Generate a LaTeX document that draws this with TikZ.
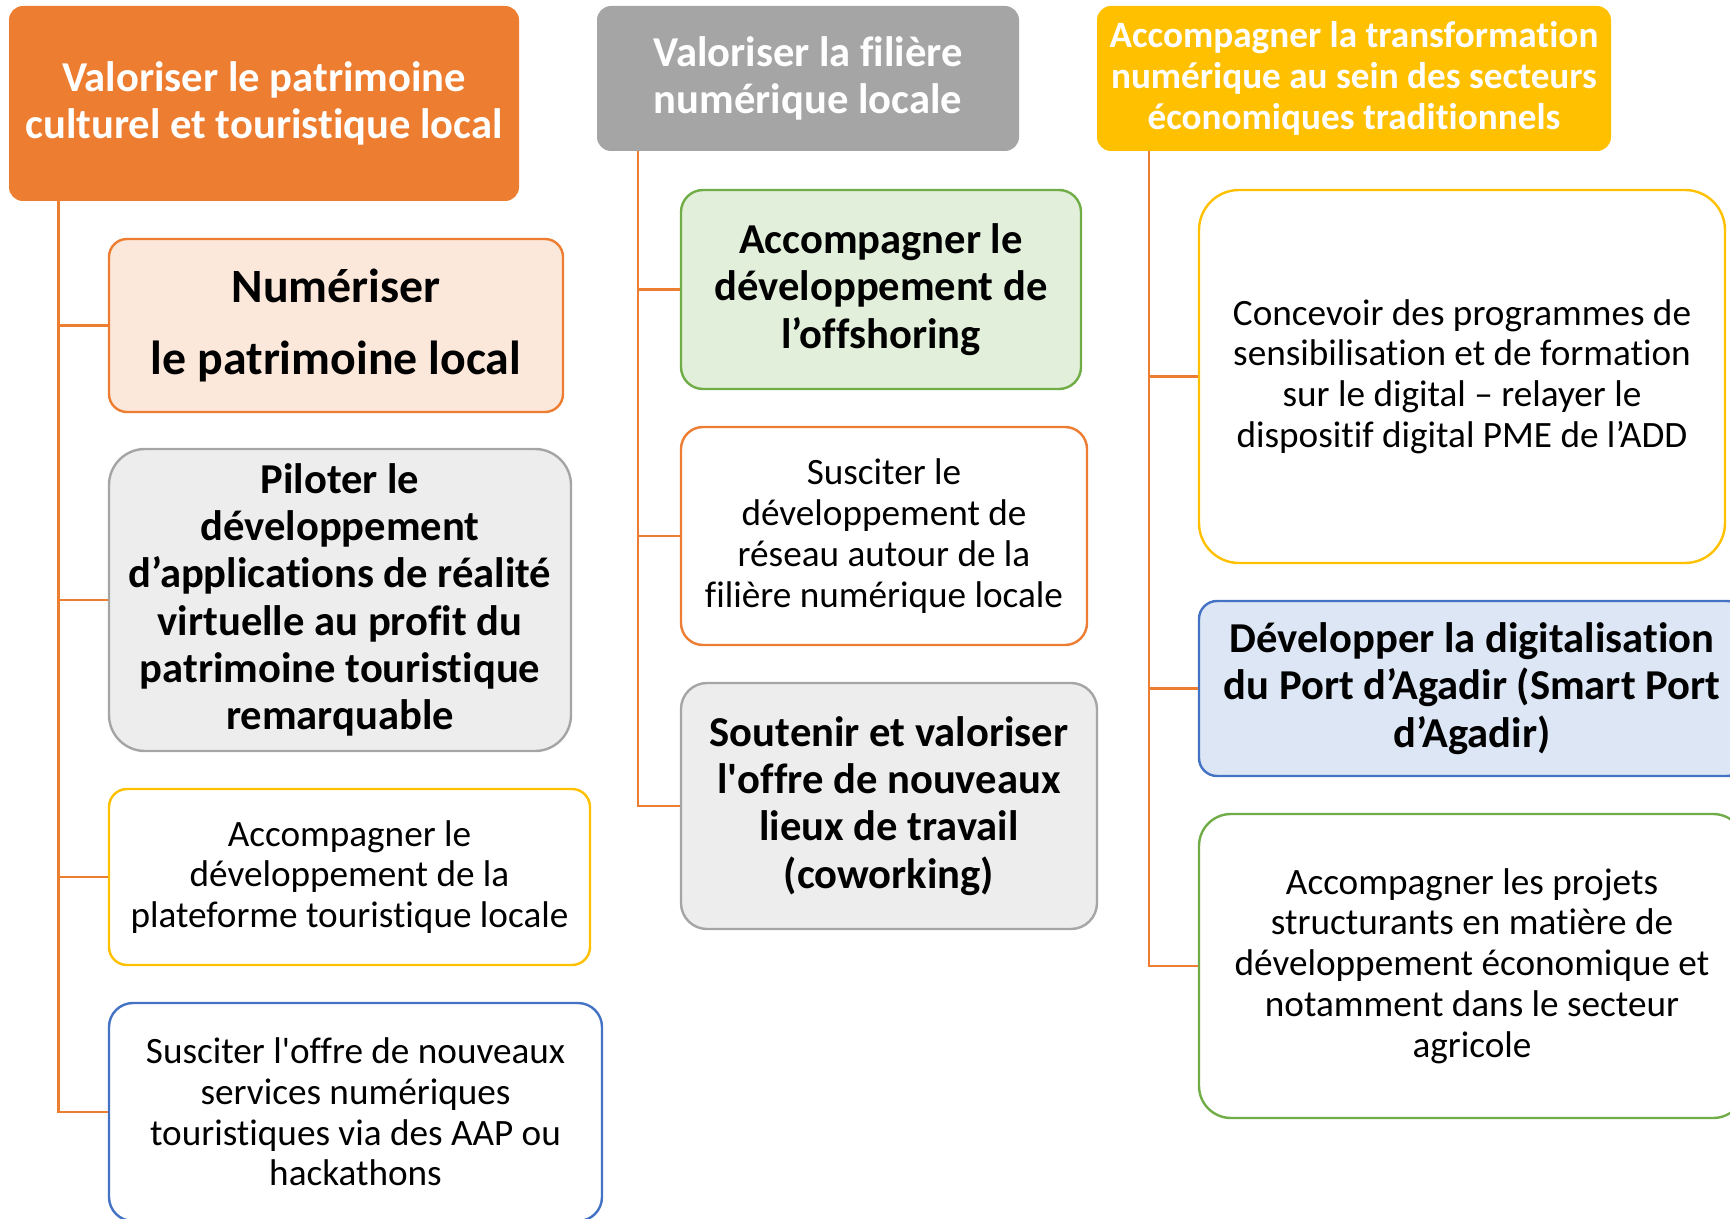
\documentclass[tikz,border=0pt]{standalone}
\usepackage{fontspec}
\setmainfont[Ligatures=NoCommon]{Carlito}
\usetikzlibrary{positioning}
\definecolor{offorange}{HTML}{ED7D31}
\definecolor{offgray}{HTML}{A5A5A5}
\definecolor{offyellow}{HTML}{FFC000}
\definecolor{offblue}{HTML}{4472C4}
\definecolor{offgreen}{HTML}{70AD47}
\tikzset{head/.style={rectangle,rounded corners=7pt,draw=none,text=white,align=center,inner sep=0pt,
    font=\bfseries\fontsize{21.3}{23.6}\selectfont}}
\tikzset{sub/.style={rectangle,rounded corners=9pt,line width=1.2pt,fill=white,align=center,inner sep=0pt,
    font=\fontsize{18.6}{20.4}\selectfont}}
\tikzset{subbold/.style={sub,font=\bfseries\fontsize{21.3}{23.6}\selectfont}}
\tikzset{link/.style={draw=offorange,line width=1.2pt}}

\begin{document}
\begin{tikzpicture}[x=0.5pt,y=-0.5pt]
\clip (0,0) rectangle (1730,1219);

% column headers
\node[head,fill=offorange,minimum width=255pt,minimum height=97.5pt] (hA) at (264,103.5)
	{Valoriser le patrimoine\\culturel et touristique local};
\node[head,fill=offgray,minimum width=211pt,minimum height=72.5pt] (hB) at (808,78.5)
	{Valoriser la filière\\numérique locale};
\node[head,fill=offyellow,minimum width=257pt,minimum height=72.5pt,
	font=\bfseries\fontsize{18.6}{20.4}\selectfont] (hC) at (1354,78.5)
	{Accompagner la transformation\\numérique au sein des secteurs\\économiques traditionnels};

% first column
\node[subbold,draw=offorange,fill=offorange!18,minimum width=227pt,minimum height=86.5pt,
	font=\bfseries\fontsize{23.9}{36.4}\selectfont] (a1) at (336,325.5)
	{Numériser\\le patrimoine local};
\node[subbold,draw=offgray,fill=black!7,rounded corners=18pt,minimum width=231pt,minimum height=151pt] (a2) at (340,600)
	{Piloter le\\développement\\d’applications de réalité\\virtuelle au profit du\\patrimoine touristique\\remarquable};
\node[sub,draw=offyellow,minimum width=240.5pt,minimum height=88pt] (a3) at (349.5,877)
	{Accompagner le\\développement de la\\plateforme touristique locale};
\node[sub,draw=offblue,rounded corners=12pt,minimum width=246.5pt,minimum height=109pt] (a4) at (355.5,1112)
	{Susciter l\textquotesingle offre de nouveaux\\services numériques\\touristiques via des AAP ou\\hackathons};

% second column
\node[subbold,draw=offgreen,fill=offgreen!20,rounded corners=11pt,minimum width=200pt,minimum height=99.5pt] (b1) at (881,289.5)
	{Accompagner le\\développement de\\l’offshoring};
\node[sub,draw=offorange,rounded corners=11pt,minimum width=203pt,minimum height=109pt] (b2) at (884,536)
	{Susciter le\\développement de\\réseau autour de la\\filière numérique locale};
\node[subbold,draw=offgray,fill=black!7,rounded corners=13pt,minimum width=208pt,minimum height=123pt] (b3) at (889,806)
	{Soutenir et valoriser\\l\textquotesingle offre de nouveaux\\lieux de travail\\(coworking)};

% third column
\node[sub,draw=offyellow,rounded corners=20pt,minimum width=263pt,minimum height=186.5pt] (c1) at (1462,376.5)
	{Concevoir des programmes de\\sensibilisation et de formation\\sur le digital – relayer le\\dispositif digital PME de l’ADD};
\node[subbold,draw=offblue,fill=offblue!18,rounded corners=9pt,minimum width=273pt,minimum height=87.5pt] (c2) at (1472,688.5)
	{Développer la digitalisation\\du Port d’Agadir (Smart Port\\d’Agadir)};
\node[sub,draw=offgreen,rounded corners=16pt,minimum width=273pt,minimum height=152pt] (c3) at (1472,966)
	{Accompagner les projets\\structurants en matière de\\développement économique et\\notamment dans le secteur\\agricole};

% trunks
\coordinate (tA) at (hA.south -| 58.5,0);
\coordinate (tB) at (hB.south -| 638,0);
\coordinate (tC) at (hC.south -| 1149,0);

\foreach \col / \n in {A/a1,A/a2,A/a3,A/a4,B/b1,B/b2,B/b3,C/c1,C/c2,C/c3}
{
	\draw[link] (t\col) |- (\n.west);
}

\end{tikzpicture}
\end{document}
